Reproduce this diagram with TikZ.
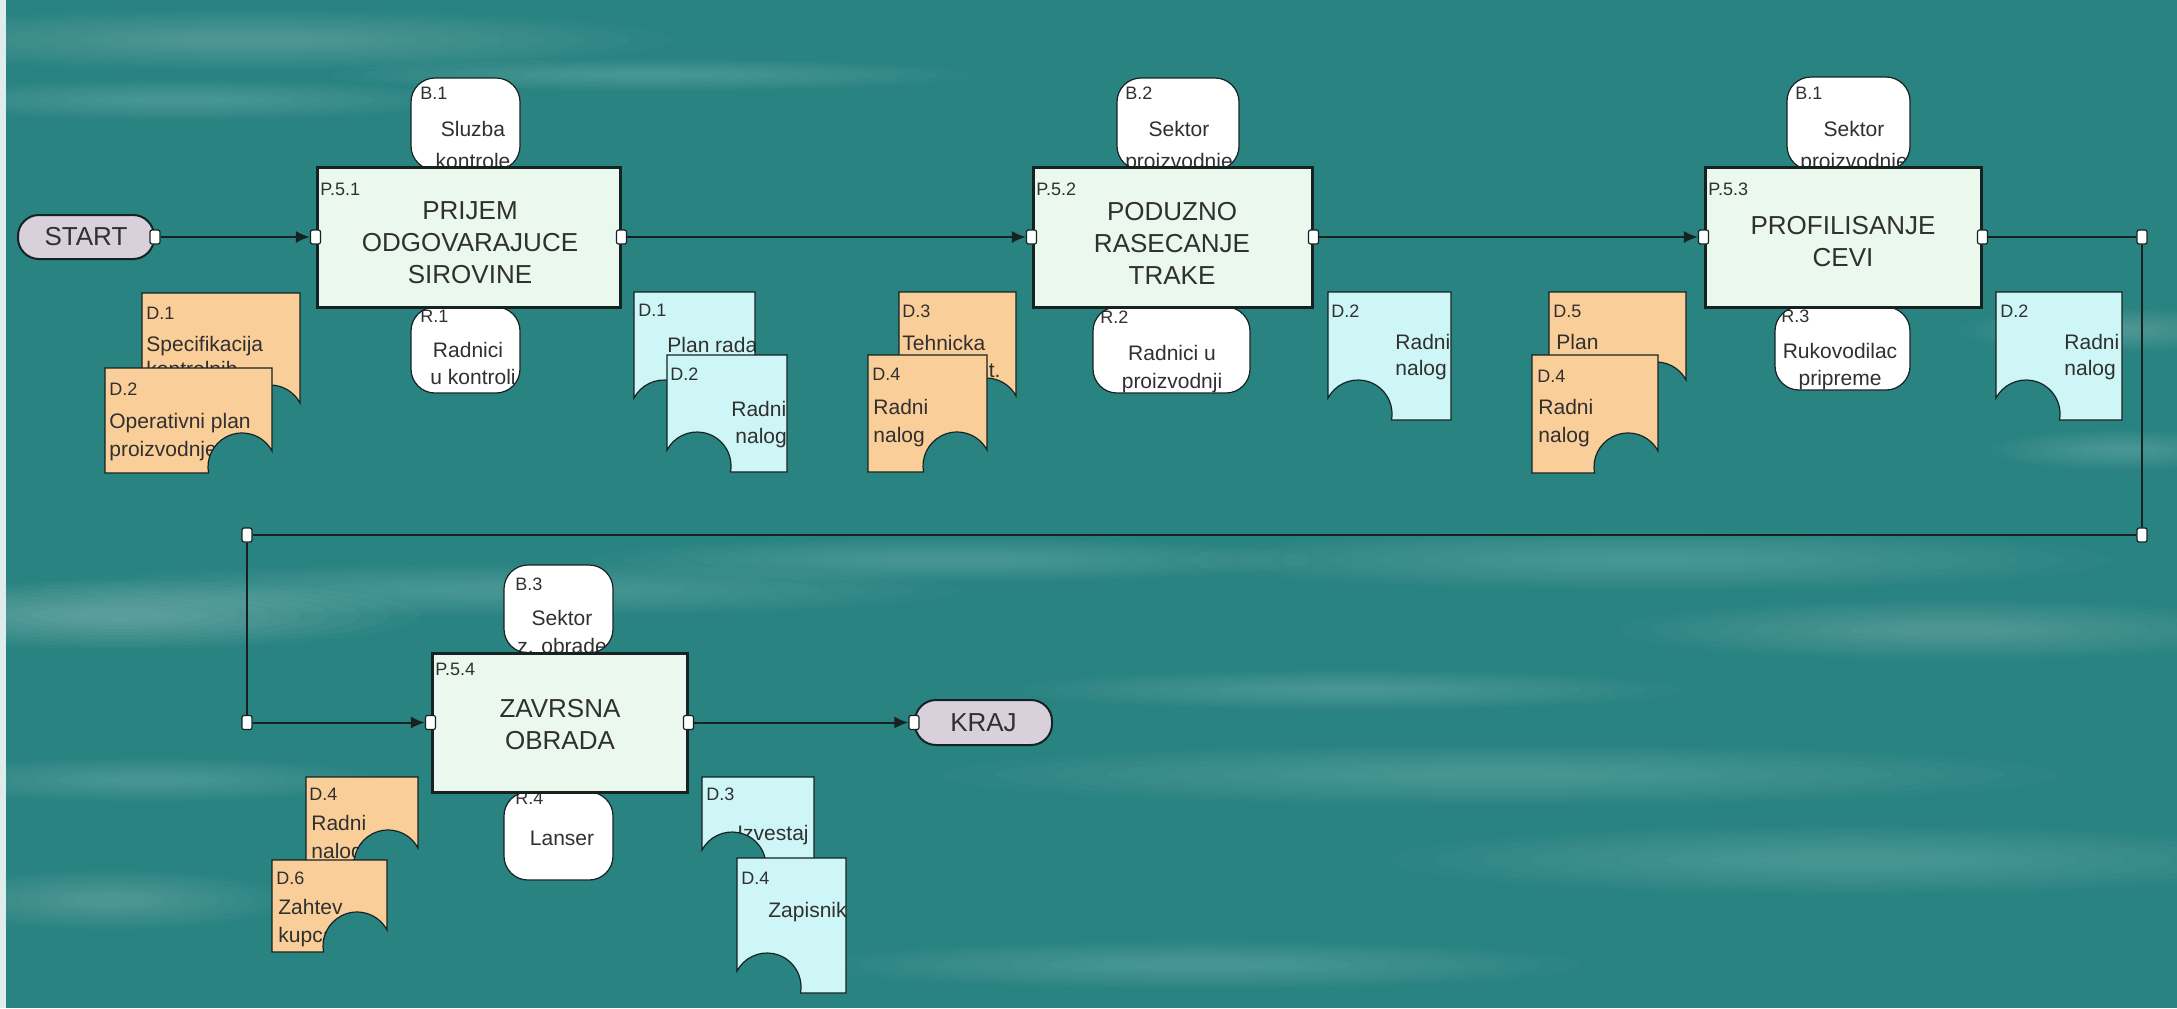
\documentclass[tikz,border=0pt]{standalone}
\usepackage{fontspec}
\setmainfont{Liberation Sans}
\usetikzlibrary{arrows.meta}

\definecolor{sea}{RGB}{40,131,129}
\definecolor{procfill}{RGB}{234,248,238}
\definecolor{orangedoc}{RGB}{250,206,152}
\definecolor{bluedoc}{RGB}{206,246,246}
\definecolor{pillfill}{RGB}{216,208,218}
\definecolor{linec}{RGB}{22,34,34}
\definecolor{txt}{RGB}{48,48,48}

% document outline, notch at the lower right corner: {L}{T}{R}{B}
\newcommand\docRpath[4]{(#1,-#2) -- (#3,-#2) -- (#3,-#4+22) arc[start angle=28.07,end angle=190.16,radius=34] -- (#1,-#4) -- cycle}
% document outline, notch at the lower left corner: {L}{T}{R}{B}
\newcommand\docLpath[4]{(#1,-#2) -- (#3,-#2) -- (#3,-#4) -- (#1+63.47,-#4) arc[start angle=-10.16,end angle=151.93,radius=34] -- cycle}

% document symbol: {outline macro}{L}{T}{R}{B}{fill colour}{text nodes}
\newcommand\docbox[7]{%
  \path[fill=#6] #1{#2}{#3}{#4}{#5};
  \begin{scope}\clip #1{#2}{#3}{#4}{#5};#7\end{scope}
  \draw[docline] #1{#2}{#3}{#4}{#5};
}
% resource symbol: {L}{T}{R}{B}{text nodes}
\newcommand\resbox[5]{%
  \begin{scope}
    \path[fill=white,rounded corners=12pt] (#1,-#2) rectangle (#3,-#4);
    \clip[rounded corners=12pt] (#1,-#2) rectangle (#3,-#4);
    #5
  \end{scope}
  \draw[resline,rounded corners=12pt] (#1,-#2) rectangle (#3,-#4);
}
% soft light streak of the water background: {x}{y}{rx}{ry}{opacity per layer}
\newcommand\streak[5]{%
  \foreach \k in {1.0,0.9,0.8,0.7,0.6,0.5,0.4,0.3,0.2}{%
    \fill[white,opacity=#5] (#1,-#2) ellipse [x radius=#3*\k, y radius=#4*\k];}
}

\tikzset{
  docline/.style={draw=linec,line width=0.6pt},
  resline/.style={draw=linec,line width=0.6pt},
  proc/.style={draw=linec,line width=1.5pt,fill=procfill,inner sep=0pt},
  pill/.style={draw=linec,line width=1pt,fill=pillfill,rounded corners=10.5pt,
    font=\fontsize{13}{15}\selectfont,text=txt,inner sep=0pt},
  port/.style={draw=linec,line width=0.6pt,fill=white,rounded corners=1pt,
    minimum width=5pt,minimum height=7pt,inner sep=0pt},
  lbl/.style={font=\fontsize{9}{10}\selectfont,text=txt,inner sep=0pt,anchor=base west},
  body/.style={font=\fontsize{10.5}{12}\selectfont,text=txt,inner sep=0pt,anchor=base west},
  bodyc/.style={body,anchor=base},
  ptitle/.style={font=\fontsize{13}{16}\selectfont,text=txt,align=center,inner sep=0pt},
  conn/.style={draw=linec,line width=1pt},
  flow/.style={conn,-{Latex[length=7pt,width=6pt]}},
}

\begin{document}
\begin{tikzpicture}[x=0.5pt,y=0.5pt]
% water background
\fill[sea] (0,0) rectangle (2177,-1008);
\useasboundingbox (0,0) rectangle (2177,-1008);
\streak{250}{40}{420}{30}{0.025}
\streak{180}{100}{280}{20}{0.02}
\streak{650}{75}{320}{16}{0.018}
\streak{120}{615}{300}{34}{0.03}
\streak{500}{590}{460}{26}{0.02}
\streak{950}{560}{360}{22}{0.018}
\streak{1650}{560}{460}{30}{0.02}
\streak{1950}{630}{330}{30}{0.024}
\streak{1500}{775}{560}{30}{0.02}
\streak{1850}{860}{460}{34}{0.02}
\streak{1350}{690}{330}{20}{0.018}
\streak{2110}{330}{150}{22}{0.025}
\streak{2120}{450}{130}{20}{0.02}
\streak{110}{900}{180}{30}{0.025}
\streak{150}{780}{230}{22}{0.02}
\streak{1200}{965}{380}{24}{0.018}
\fill[white!85!sea] (0,0) rectangle (6,-1008);

% ---------- P.5.1 ----------
\resbox{411}{78}{520}{170}{%
  \node[lbl] (b1a) at (420,-99) {B.1};
  \node[bodyc] (b1b) at (473,-136) {Sluzba};
  \node[bodyc] (b1c) at (473,-168) {kontrole};}
\resbox{411}{307}{520}{393}{%
  \node[lbl] (r1a) at (420,-322) {R.1};
  \node[bodyc] (r1b) at (468,-357) {Radnici};
  \node[body] (r1c) at (430,-384) {u kontroli};}
\docbox{\docRpath}{142}{293}{300}{425}{orangedoc}{%
  \node[lbl] (d1oa) at (146,-319) {D.1};
  \node[body] (d1ob) at (146,-351) {Specifikacija};
  \node[body] (d1oc) at (146,-376) {kontrolnih};}
\docbox{\docRpath}{105}{368}{272}{473}{orangedoc}{%
  \node[lbl] (d2oa) at (109,-395) {D.2};
  \node[body] (d2ob) at (109,-428) {Operativni plan};
  \node[body] (d2oc) at (109,-456) {proizvodnje};}
\docbox{\docLpath}{634}{292}{755}{420}{bluedoc}{%
  \node[lbl] (d1ba) at (638,-316) {D.1};
  \node[body] (d1bb) at (667,-352) {Plan rada};}
\docbox{\docLpath}{667}{355}{787}{472}{bluedoc}{%
  \node[lbl] (d2ba) at (670,-380) {D.2};
  \node[body] (d2bb) at (731,-416) {Radni};
  \node[body] (d2bc) at (735,-443) {nalog};}
\node[proc,minimum width=151.5pt,minimum height=70pt] (p1) at (468.5,-237) {};
\node[lbl] (p1l) at (320,-195) {P.5.1};
\node[ptitle] (p1t) at (470,-243) {PRIJEM\\ODGOVARAJUCE\\SIROVINE};

% ---------- P.5.2 ----------
\resbox{1117}{78}{1239}{170}{%
  \node[lbl] (b2a) at (1125,-99) {B.2};
  \node[bodyc] (b2b) at (1179,-136) {Sektor};
  \node[bodyc] (b2c) at (1179,-168) {proizvodnje};}
\resbox{1093}{307}{1250}{393}{%
  \node[lbl] (r2a) at (1100,-323) {R.2};
  \node[bodyc] (r2b) at (1172,-360) {Radnici u};
  \node[bodyc] (r2c) at (1172,-388) {proizvodnji};}
\docbox{\docRpath}{899}{292}{1016}{418}{orangedoc}{%
  \node[lbl] (d3oa) at (902,-317) {D.3};
  \node[body] (d3ob) at (902,-350) {Tehnicka};
  \node[body] (d3oc) at (902,-377) {dokument.};}
\docbox{\docRpath}{868}{355}{987}{472}{orangedoc}{%
  \node[lbl] (d4oa) at (872,-380) {D.4};
  \node[body] (d4ob) at (873,-414) {Radni};
  \node[body] (d4oc) at (873,-442) {nalog};}
\docbox{\docLpath}{1328}{292}{1451}{420}{bluedoc}{%
  \node[lbl] (d2b2a) at (1331,-317) {D.2};
  \node[body] (d2b2b) at (1395,-349) {Radni};
  \node[body] (d2b2c) at (1395,-375) {nalog};}
\node[proc,minimum width=139.5pt,minimum height=70pt] (p2) at (1172.5,-237) {};
\node[lbl] (p2l) at (1036,-195) {P.5.2};
\node[ptitle] (p2t) at (1172,-243) {PODUZNO\\RASECANJE\\TRAKE};

% ---------- P.5.3 ----------
\resbox{1787}{77}{1910}{170}{%
  \node[lbl] (b3a) at (1795,-99) {B.1};
  \node[bodyc] (b3b) at (1854,-136) {Sektor};
  \node[bodyc] (b3c) at (1854,-168) {proizvodnje};}
\resbox{1775}{307}{1910}{390}{%
  \node[lbl] (r3a) at (1781,-322) {R.3};
  \node[bodyc] (r3b) at (1840,-358) {Rukovodilac};
  \node[bodyc] (r3c) at (1840,-385) {pripreme};}
\docbox{\docRpath}{1549}{292}{1686}{402}{orangedoc}{%
  \node[lbl] (d5oa) at (1553,-317) {D.5};
  \node[body] (d5ob) at (1556,-349) {Plan};
  \node[body] (d5oc) at (1556,-380) {proizvodnje};}
\docbox{\docRpath}{1532}{355}{1658}{473}{orangedoc}{%
  \node[lbl] (d4o2a) at (1537,-382) {D.4};
  \node[body] (d4o2b) at (1538,-414) {Radni};
  \node[body] (d4o2c) at (1538,-442) {nalog};}
\docbox{\docLpath}{1996}{292}{2122}{420}{bluedoc}{%
  \node[lbl] (d2b3a) at (2000,-317) {D.2};
  \node[body] (d2b3b) at (2064,-349) {Radni};
  \node[body] (d2b3c) at (2064,-375) {nalog};}
\node[proc,minimum width=138pt,minimum height=70pt] (p3) at (1843,-237) {};
\node[lbl] (p3l) at (1708,-195) {P.5.3};
\node[ptitle] (p3t) at (1843,-242) {PROFILISANJE\\CEVI};

% ---------- P.5.4 ----------
\resbox{504}{565}{613}{653}{%
  \node[lbl] (b4a) at (515,-590) {B.3};
  \node[bodyc] (b4b) at (562,-625) {Sektor};
  \node[bodyc] (b4c) at (562,-653) {z. obrade};}
\resbox{504}{792}{613}{880}{%
  \node[lbl] (r4a) at (515,-804) {R.4};
  \node[bodyc] (r4b) at (562,-845) {Lanser};}
\docbox{\docRpath}{306}{777}{418}{870}{orangedoc}{%
  \node[lbl] (d4o3a) at (309,-800) {D.4};
  \node[body] (d4o3b) at (311,-830) {Radni};
  \node[body] (d4o3c) at (311,-858) {nalog};}
\docbox{\docRpath}{272}{860}{387}{952}{orangedoc}{%
  \node[lbl] (d6oa) at (276,-884) {D.6};
  \node[body] (d6ob) at (278,-914) {Zahtev};
  \node[body] (d6oc) at (278,-942) {kupca};}
\docbox{\docLpath}{702}{777}{814}{872}{bluedoc}{%
  \node[lbl] (d3ba) at (706,-800) {D.3};
  \node[body] (d3bb) at (737,-840) {Izvestaj};}
\docbox{\docLpath}{737}{858}{846}{993}{bluedoc}{%
  \node[lbl] (d4ba) at (741,-884) {D.4};
  \node[body] (d4bb) at (768,-917) {Zapisnik};}
\node[proc,minimum width=127.5pt,minimum height=69.5pt] (p4) at (559.5,-722.5) {};
\node[lbl] (p4l) at (435,-675) {P.5.4};
\node[ptitle] (p4t) at (560,-725) {ZAVRSNA\\OBRADA};

% ---------- start, end and flow ----------
\node[pill,minimum width=68pt,minimum height=22pt] (start) at (86,-237) {START};
\node[pill,minimum width=68.5pt,minimum height=22.5pt] (kraj) at (983.5,-722.5) {KRAJ};

\node[port] (sout) at (start.east) {};
\node[port] (p1in) at (p1.west) {};
\node[port] (p1out) at (p1.east) {};
\node[port] (p2in) at (p2.west) {};
\node[port] (p2out) at (p2.east) {};
\node[port] (p3in) at (p3.west) {};
\node[port] (p3out) at (p3.east) {};
\node[port] (p4in) at (p4.west) {};
\node[port] (p4out) at (p4.east) {};
\node[port] (kin) at (kraj.west) {};
\node[port] (j1) at (2142,-237) {};
\node[port] (j2) at (2142,-535) {};
\node[port] (j3) at (247,-535) {};
\node[port] (j4) at (247,-722.5) {};

\draw[flow] (sout) -- (p1in);
\draw[flow] (p1out) -- (p2in);
\draw[flow] (p2out) -- (p3in);
\draw[conn] (p3out) -- (j1);
\draw[conn] (j1) -- (j2);
\draw[conn] (j2) -- (j3);
\draw[conn] (j3) -- (j4);
\draw[flow] (j4) -- (p4in);
\draw[flow] (p4out) -- (kin);
\end{tikzpicture}
\end{document}
